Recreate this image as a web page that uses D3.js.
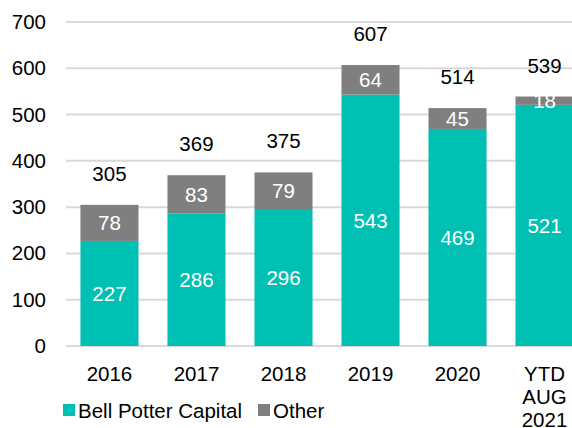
<!DOCTYPE html>
<html>
<head>
<meta charset="utf-8">
<style>
  body { margin: 0; background: #fff; }
  svg { font-family: 'Liberation Sans', Arial, sans-serif; }
  .grid line { stroke: #d9d9d9; stroke-width: 2px; }
</style>
</head>
<body>
<svg width="572" height="428"></svg>
<script src="https://d3js.org/d3.v7.min.js"></script>
<script>
// data
let categories = ["2016", "2017", "2018", "2019", "2020", "YTD AUG 2021"]
let bellPotter = [227, 286, 296, 543, 469, 521]
let other = [78, 83, 79, 64, 45, 18]
let totals = [305, 369, 375, 607, 514, 539]
let yTicks = [0, 100, 200, 300, 400, 500, 600, 700]

let teal = "#00bfb3"
let grey = "#7f7f7f"
let fs = "20.5px"

let svg = d3.select("svg")
let margin = { top: 22, right: -16, bottom: 82, left: 66 }
let width = 572, height = 428

let x = d3.scaleBand()
    .domain(categories)
    .range([margin.left, width - margin.right])
    .paddingInner(0.333)
    .paddingOuter(0.166)

let y = d3.scaleLinear()
    .domain([0, 700])
    .range([height - margin.bottom, margin.top])

// gridlines
svg.append("g")
    .attr("class", "grid")
    .selectAll("line")
    .data(yTicks)
    .join("line")
    .attr("x1", margin.left)
    .attr("x2", width)
    .attr("y1", d => y(d))
    .attr("y2", d => y(d))

// y axis labels
let yAxis = d3.axisLeft(y)
    .tickValues(yTicks)
    .tickSize(0)
    .tickPadding(20)
svg.append("g")
    .attr("transform", `translate(${margin.left},0)`)
    .call(yAxis)
    .call(g => g.select(".domain").remove())
    .selectAll("text")
    .style("font-size", fs)
    .style("fill", "#000")
    .style("font-family", "'Liberation Sans', Arial, sans-serif")

let rows = categories.map((c, i) => ({ cat: c, bp: bellPotter[i], ot: other[i], total: totals[i] }))

// bars
let bars = svg.append("g")
bars.selectAll(".bp")
    .data(rows)
    .join("rect")
    .attr("x", d => x(d.cat))
    .attr("width", x.bandwidth())
    .attr("y", d => y(d.bp))
    .attr("height", d => y(0) - y(d.bp))
    .style("fill", teal)

bars.selectAll(".ot")
    .data(rows)
    .join("rect")
    .attr("x", d => x(d.cat))
    .attr("width", x.bandwidth())
    .attr("y", d => y(d.bp + d.ot))
    .attr("height", d => y(d.bp) - y(d.bp + d.ot))
    .style("fill", grey)

// labels in segments
let lab = svg.append("g")
    .style("font-size", fs)
    .attr("text-anchor", "middle")

lab.selectAll(".lbp")
    .data(rows)
    .join("text")
    .attr("x", d => x(d.cat) + x.bandwidth() / 2)
    .attr("y", d => y(d.bp / 2))
    .attr("dy", "0.36em")
    .style("fill", "#fff")
    .text(d => d.bp)

lab.selectAll(".lot")
    .data(rows)
    .join("text")
    .attr("x", d => x(d.cat) + x.bandwidth() / 2)
    .attr("y", d => y(d.bp + d.ot / 2))
    .attr("dy", "0.36em")
    .style("fill", "#fff")
    .text(d => d.ot)

lab.selectAll(".ltot")
    .data(rows)
    .join("text")
    .attr("x", d => x(d.cat) + x.bandwidth() / 2)
    .attr("y", d => y(d.total) - 24)
    .style("fill", "#000")
    .text(d => d.total)

// x labels
let xl = svg.append("g")
    .style("font-size", fs)
    .attr("text-anchor", "middle")
rows.forEach(d => {
    let words = d.cat.split(" ")
    let t = xl.append("text")
        .attr("x", x(d.cat) + x.bandwidth() / 2)
        .attr("y", y(0) + 35)
    words.forEach((w, i) => {
        t.append("tspan")
            .attr("x", x(d.cat) + x.bandwidth() / 2)
            .attr("dy", i == 0 ? 0 : 23)
            .text(w)
    })
})

// legend
let legend = [{ name: "Bell Potter Capital", color: teal, x: 63 }, { name: "Other", color: grey, x: 258 }]
let lg = svg.append("g")
lg.selectAll("rect")
    .data(legend)
    .join("rect")
    .attr("x", d => d.x)
    .attr("y", 404)
    .attr("width", 12)
    .attr("height", 12)
    .style("fill", d => d.color)
lg.selectAll("text")
    .data(legend)
    .join("text")
    .attr("x", d => d.x + 15)
    .attr("y", 418)
    .style("font-size", fs)
    .text(d => d.name)
</script>
</body>
</html>
